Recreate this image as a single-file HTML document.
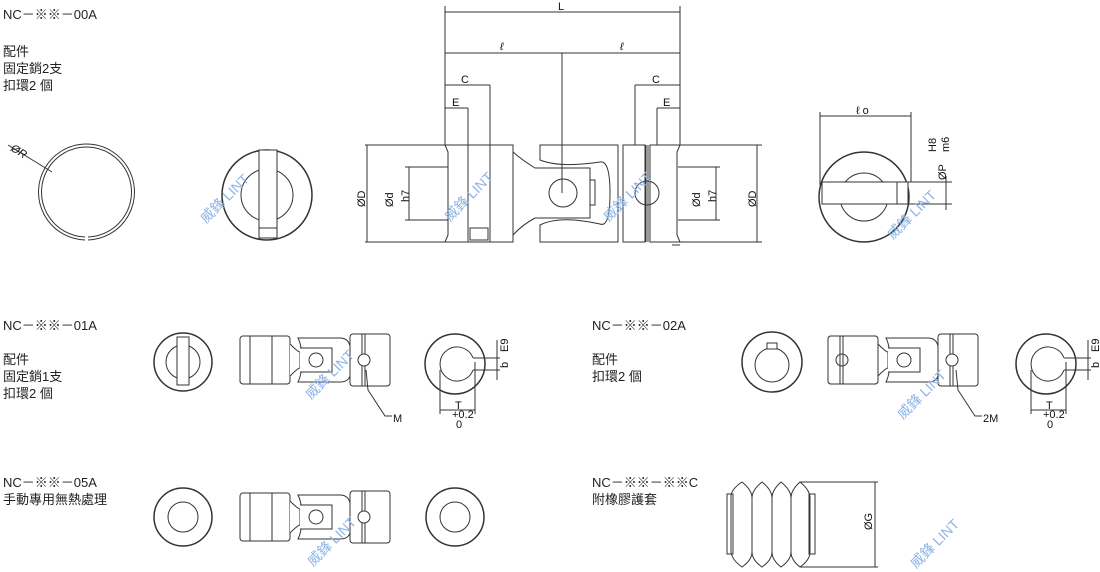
<!DOCTYPE html>
<html><head><meta charset="utf-8"><style>
html,body{margin:0;padding:0;background:#fff;}
svg{display:block;}
.t{font-family:"Liberation Sans","Noto Sans CJK TC",sans-serif;font-size:13px;fill:#222;}
.s{font-family:"Liberation Sans",sans-serif;font-size:11px;fill:#111;}
.w{font-family:"Liberation Sans","Noto Sans CJK TC",sans-serif;font-size:14px;fill:#8db4e6;}
</style></head><body>
<svg width="1100" height="572" viewBox="0 0 1100 572" xmlns="http://www.w3.org/2000/svg">
<defs>
<g id="cp" fill="#fff" stroke="#333" stroke-width="1">
  <rect x="0" y="2" width="50" height="48" rx="3"/>
  <line x1="10" y1="2" x2="10" y2="50"/>
  <line x1="32" y1="2" x2="32" y2="50"/>
  <path d="M50 10 Q58 18 60 18 L60 34 Q58 34 50 42"/>
  <path d="M58 4 L100 4 Q108 4 110 12 L110 42 Q108 48 100 48 L58 48 Q62 40 62 26 Q62 12 58 4Z"/>
  <path d="M60 14 L92 14 L92 38 L60 38"/>
  <circle cx="76" cy="26" r="7"/>
  <rect x="110" y="0" width="40" height="52" rx="3"/>
  <line x1="122" y1="0" x2="122" y2="52"/><line x1="125" y1="0" x2="125" y2="52"/>
  <circle cx="124" cy="26" r="6"/>
</g>
</defs>

<text class="t" x="3" y="19">NC－※※－00A</text>
<text class="t" x="3" y="56">配件</text>
<text class="t" x="3" y="73">固定銷2支</text>
<text class="t" x="3" y="90">扣環2 個</text>
<text class="t" x="3" y="330">NC－※※－01A</text>
<text class="t" x="3" y="364">配件</text>
<text class="t" x="3" y="381">固定銷1支</text>
<text class="t" x="3" y="398">扣環2 個</text>
<text class="t" x="3" y="487">NC－※※－05A</text>
<text class="t" x="3" y="504">手動專用無熱處理</text>
<text class="t" x="592" y="330">NC－※※－02A</text>
<text class="t" x="592" y="364">配件</text>
<text class="t" x="592" y="381">扣環2 個</text>
<text class="t" x="592" y="487">NC－※※－※※C</text>
<text class="t" x="592" y="504">附橡膠護套</text>

<g fill="none" stroke="#333" stroke-width="1">
<path d="M85 240 A48 48 0 1 1 88 240" />
<path d="M85 237 A45 45 0 1 1 88 237" />
<line x1="8" y1="145" x2="52" y2="172"/>
<circle cx="267" cy="195" r="45" stroke-width="1.5"/>
<circle cx="267" cy="195" r="26"/>
<rect x="259" y="150" width="18" height="88" fill="#fff"/>
<line x1="259" y1="228" x2="277" y2="228"/>

<line x1="445" y1="6" x2="445" y2="145"/><line x1="680" y1="6" x2="680" y2="145"/>
<line x1="445" y1="12" x2="680" y2="12"/>
<line x1="445" y1="53" x2="680" y2="53"/>
<line x1="562" y1="53" x2="562" y2="193"/>
<line x1="445" y1="85" x2="490" y2="85"/><line x1="490" y1="85" x2="490" y2="145"/>
<line x1="445" y1="108" x2="468" y2="108"/><line x1="468" y1="108" x2="468" y2="145"/>
<line x1="635" y1="85" x2="680" y2="85"/><line x1="635" y1="85" x2="635" y2="145"/>
<line x1="657" y1="108" x2="680" y2="108"/><line x1="657" y1="108" x2="657" y2="145"/>
<line x1="365" y1="145" x2="445" y2="145"/><line x1="365" y1="242" x2="445" y2="242"/>
<line x1="367" y1="145" x2="367" y2="242"/>
<line x1="405" y1="167" x2="448" y2="167"/><line x1="405" y1="220" x2="448" y2="220"/>
<line x1="409" y1="167" x2="409" y2="220"/>
<line x1="680" y1="145" x2="762" y2="145"/><line x1="680" y1="242" x2="762" y2="242"/>
<line x1="757" y1="145" x2="757" y2="242"/>
<line x1="678" y1="167" x2="720" y2="167"/><line x1="678" y1="220" x2="720" y2="220"/>
<line x1="716" y1="167" x2="716" y2="220"/>
<path d="M445 145 L513 145 L513 242 L445 242 L448 235 L448 152Z"/>
<line x1="468" y1="145" x2="468" y2="242"/><line x1="490" y1="145" x2="490" y2="242"/>
<rect x="470" y="228" width="18" height="12"/>
<path d="M513 152 Q522 160 535 168 L560 168 M513 235 Q522 225 535 218 L560 218"/>
<path d="M540 145 L618 145 L618 242 L540 242 L540 225 Q560 215 600 224 Q610 228 610 193 Q610 160 600 162 Q560 168 540 160Z"/>
<path d="M535 168 L590 168 L590 218 L535 218"/>
<circle cx="563" cy="193" r="14"/>
<rect x="590" y="180" width="5" height="25"/>
<rect x="623" y="145" width="22" height="97"/>
<line x1="646" y1="145" x2="646" y2="242"/><line x1="648" y1="145" x2="648" y2="242"/>
<path d="M650 145 L680 145 L677 152 L677 235 L680 242 L650 242Z"/>
<circle cx="647" cy="193" r="12"/>
<line x1="672" y1="245" x2="680" y2="245"/>

<line x1="820" y1="112" x2="820" y2="185"/><line x1="911" y1="112" x2="911" y2="182"/>
<line x1="820" y1="116" x2="911" y2="116"/>
<circle cx="864" cy="197" r="45" stroke-width="1.5"/>
<circle cx="864" cy="197" r="24"/>
<rect x="822" y="182" width="86" height="22" fill="#fff"/>
<line x1="897" y1="182" x2="897" y2="204"/>
<line x1="908" y1="182" x2="952" y2="182"/><line x1="908" y1="204" x2="952" y2="204"/>
<line x1="946" y1="176" x2="946" y2="210"/>

<circle cx="183" cy="362" r="29" stroke-width="1.5"/>
<circle cx="183" cy="362" r="17"/>
<rect x="177" y="337" width="12" height="48" fill="#fff"/>
<use href="#cp" x="240" y="334"/>
<circle cx="455" cy="364" r="30" stroke-width="1.5"/>
<path d="M473 358 A17 17 0 1 0 473 370"/>
<line x1="473" y1="358" x2="500" y2="358"/><line x1="473" y1="370" x2="500" y2="370"/>
<line x1="497" y1="340" x2="497" y2="380"/>
<line x1="440" y1="370" x2="440" y2="414"/><line x1="475" y1="362" x2="475" y2="414"/>
<line x1="440" y1="410" x2="475" y2="410"/>
<path d="M366 370 L368 390 L385 416 L392 416"/>

<circle cx="772" cy="362" r="30" stroke-width="1.5"/>
<circle cx="772" cy="365" r="17"/>
<rect x="767" y="343" width="10" height="6" fill="#fff"/>
<g transform="translate(828 334)">
  <use href="#cp" x="0" y="0"/>
  <rect x="0" y="2" width="50" height="48" rx="3" fill="#fff"/>
  <line x1="12" y1="2" x2="12" y2="50"/><line x1="15" y1="2" x2="15" y2="50"/>
  <circle cx="14" cy="26" r="6"/>
</g>
<circle cx="1046" cy="364" r="30" stroke-width="1.5"/>
<path d="M1064 358 A17 17 0 1 0 1064 370"/>
<line x1="1064" y1="358" x2="1091" y2="358"/><line x1="1064" y1="370" x2="1091" y2="370"/>
<line x1="1088" y1="340" x2="1088" y2="380"/>
<line x1="1031" y1="370" x2="1031" y2="414"/><line x1="1066" y1="362" x2="1066" y2="414"/>
<line x1="1031" y1="410" x2="1066" y2="410"/>
<path d="M956 370 L958 390 L975 416 L982 416"/>

<circle cx="183" cy="517" r="29" stroke-width="1.5"/>
<circle cx="183" cy="517" r="15"/>
<use href="#cp" x="240" y="491"/>
<circle cx="455" cy="517" r="29" stroke-width="1.5"/>
<circle cx="455" cy="517" r="15"/>

<rect x="727" y="494" width="6" height="60"/>
<rect x="809" y="494" width="6" height="60"/>
<path d="M742 482 Q730 490 731 498 L731 552 Q732 560 742 567 Q752 560 752 552 L752 498 Q752 490 742 482Z"/>
<path d="M762 482 Q752 490 752 498 L752 552 Q752 560 762 567 Q772 560 772 552 L772 498 Q772 490 762 482Z"/>
<path d="M781 482 Q772 490 772 498 L772 552 Q772 560 781 567 Q791 560 791 552 L791 498 Q791 490 781 482Z"/>
<path d="M800 482 Q791 490 791 498 L791 552 Q791 560 800 567 Q810 560 810 552 L810 498 Q810 490 800 482Z"/>
<line x1="800" y1="482" x2="878" y2="482"/><line x1="800" y1="567" x2="878" y2="567"/>
<line x1="875" y1="482" x2="875" y2="567"/>
</g>

<text class="s" x="558" y="10" font-size="14">L</text>
<text class="s" x="500" y="50" font-size="14" font-style="italic">ℓ</text>
<text class="s" x="620" y="50" font-size="14" font-style="italic">ℓ</text>
<text class="s" x="461" y="83" font-size="14">C</text>
<text class="s" x="652" y="83" font-size="14">C</text>
<text class="s" x="452" y="106" font-size="14">E</text>
<text class="s" x="663" y="106" font-size="14">E</text>
<text class="s" font-size="14" transform="translate(365 207) rotate(-90)">ØD</text>
<text class="s" font-size="13" transform="translate(393 207) rotate(-90)">Ød</text>
<text class="s" font-size="13" transform="translate(409 202) rotate(-90)">h7</text>
<text class="s" font-size="13" transform="translate(700 207) rotate(-90)">Ød</text>
<text class="s" font-size="13" transform="translate(716 202) rotate(-90)">h7</text>
<text class="s" font-size="14" transform="translate(756 207) rotate(-90)">ØD</text>
<text class="s" x="856" y="114" font-size="13">ℓ o</text>
<text class="s" font-size="13" transform="translate(936 152) rotate(-90)">H8</text>
<text class="s" font-size="13" transform="translate(949 152) rotate(-90)">m6</text>
<text class="s" font-size="13" transform="translate(946 180) rotate(-90)">ØP</text>
<text class="s" font-size="13" transform="translate(10 150) rotate(32)" font-style="italic">ØR</text>
<text class="s" x="393" y="422" font-size="13">M</text>
<text class="s" x="983" y="422" font-size="13">2M</text>
<text class="s" x="455" y="409" font-size="8">T</text>
<text class="s" x="452" y="418" font-size="8">+0.2</text>
<text class="s" x="456" y="428" font-size="8">0</text>
<text class="s" x="1046" y="409" font-size="8">T</text>
<text class="s" x="1043" y="418" font-size="8">+0.2</text>
<text class="s" x="1047" y="428" font-size="8">0</text>
<text class="s" font-size="8" transform="translate(508 352) rotate(-90)">E9</text>
<text class="s" font-size="8" transform="translate(508 368) rotate(-90)">b</text>
<text class="s" font-size="8" transform="translate(1099 352) rotate(-90)">E9</text>
<text class="s" font-size="8" transform="translate(1099 368) rotate(-90)">b</text>
<text class="s" font-size="7" transform="translate(872 530) rotate(-90)">ØG</text>

<text class="w" transform="translate(206 224) rotate(-45)">威鋒 LINT</text>
<text class="w" transform="translate(450 222) rotate(-45)">威鋒 LINT</text>
<text class="w" transform="translate(609 222) rotate(-45)">威鋒 LINT</text>
<text class="w" transform="translate(893 240) rotate(-45)">威鋒 LINT</text>
<text class="w" transform="translate(311 400) rotate(-45)">威鋒 LINT</text>
<text class="w" transform="translate(903 420) rotate(-45)">威鋒 LINT</text>
<text class="w" transform="translate(313 567) rotate(-45)">威鋒 LINT</text>
<text class="w" transform="translate(916 569) rotate(-45)">威鋒 LINT</text>
</svg>
</body></html>
